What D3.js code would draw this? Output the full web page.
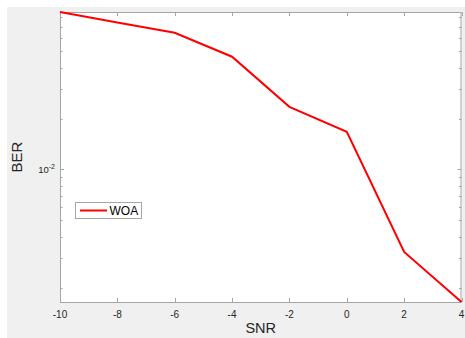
<!DOCTYPE html>
<html><head><meta charset="utf-8">
<script src="https://cdn.jsdelivr.net/npm/d3@7"></script>
<style>html,body{margin:0;padding:0;background:#fff;}svg{display:block;}</style>
</head><body>
<svg id="c" width="465" height="338"></svg>
<script>
const snr = [-10, -8, -6, -4, -2, 0, 2, 4];
const berWOA = [0.0853, 0.0740, 0.0643, 0.0464, 0.02347, 0.01669, 0.003254, 0.001647];
const xTicks = [-10, -8, -6, -4, -2, 0, 2, 4];
const seriesName = "WOA";

const svg = d3.select("#c");
svg.append("rect").attr("x", 7).attr("y", 7).attr("width", 458).attr("height", 331).attr("fill", "#f0f0f0");

const L = 60, R = 461.5, T = 12, B = 302;
const x = d3.scaleLinear().domain([-10, 4]).range([L, R]);
const y = d3.scaleLog().domain([d3.min(berWOA), d3.max(berWOA)]).range([B, T]);

svg.append("rect").attr("x", L).attr("y", T).attr("width", R - L).attr("height", B - T).attr("fill", "#fff");

const axisCol = "#a6a6a6";
const txtCol = "#262626";
const font = "Helvetica, Arial, 'Liberation Sans', sans-serif";

// minor log ticks
const minor = [];
for (let e = -4; e <= 0; e++) for (let k = 1; k <= 9; k++) {
  const v = k * Math.pow(10, e);
  if (v >= y.domain()[0] && v <= y.domain()[1]) minor.push({v, major: k === 1});
}
const g = svg.append("g").attr("stroke", axisCol).attr("stroke-width", 1);
minor.forEach(m => {
  const yy = Math.round(y(m.v)) + 0.5;
  const len = m.major ? 4 : 2.5;
  g.append("line").attr("x1", L).attr("x2", L + len).attr("y1", yy).attr("y2", yy);
  g.append("line").attr("x1", R - len).attr("x2", R).attr("y1", yy).attr("y2", yy);
});
xTicks.forEach(t => {
  const xx = Math.round(x(t)) + 0.5;
  g.append("line").attr("x1", xx).attr("x2", xx).attr("y1", B).attr("y2", B - 4);
  g.append("line").attr("x1", xx).attr("x2", xx).attr("y1", T).attr("y2", T + 4);
});
// box
g.append("rect").attr("x", L + 0.5).attr("y", T + 0.5).attr("width", R - L - 1).attr("height", B - T).attr("fill", "none");

// x tick labels
svg.append("g").selectAll("text").data(xTicks).join("text")
  .attr("x", d => x(d)).attr("y", 318).attr("text-anchor", "middle")
  .attr("font-family", font).attr("font-size", 10).attr("fill", txtCol)
  .text(d => d);

// y tick label 10^-2
const yl = svg.append("text").attr("x", 55).attr("y", y(0.01) + 3.5).attr("text-anchor", "end")
  .attr("font-family", font).attr("font-size", 9.5).attr("fill", txtCol);
yl.append("tspan").text("10");
yl.append("tspan").attr("dy", -4).attr("font-size", 7).text("-2");

// axis labels
svg.append("text").attr("x", (L + R) / 2).attr("y", 333).attr("text-anchor", "middle")
  .attr("font-family", font).attr("font-size", 14.5).attr("fill", txtCol).text("SNR");
svg.append("text").attr("transform", `translate(22,${(T + B) / 2}) rotate(-90)`).attr("text-anchor", "middle")
  .attr("font-family", font).attr("font-size", 15).attr("fill", txtCol).text("BER");

// line
const line = d3.line().x((d, i) => x(snr[i])).y(d => y(d));
svg.append("path").datum(berWOA).attr("d", line).attr("fill", "none")
  .attr("stroke", "#ff0000").attr("stroke-width", 2).attr("stroke-linejoin", "miter");

// legend
const lg = svg.append("g");
lg.append("rect").attr("x", 75.5).attr("y", 202.5).attr("width", 66).attr("height", 16)
  .attr("fill", "#fff").attr("stroke", "#a6a6a6");
lg.append("line").attr("x1", 80).attr("x2", 107).attr("y1", 210.5).attr("y2", 210.5)
  .attr("stroke", "#ff0000").attr("stroke-width", 2);
lg.append("text").attr("x", 109.5).attr("y", 215).attr("font-family", font).attr("font-size", 12)
  .attr("fill", "#000").text(seriesName);
</script>
</body></html>
